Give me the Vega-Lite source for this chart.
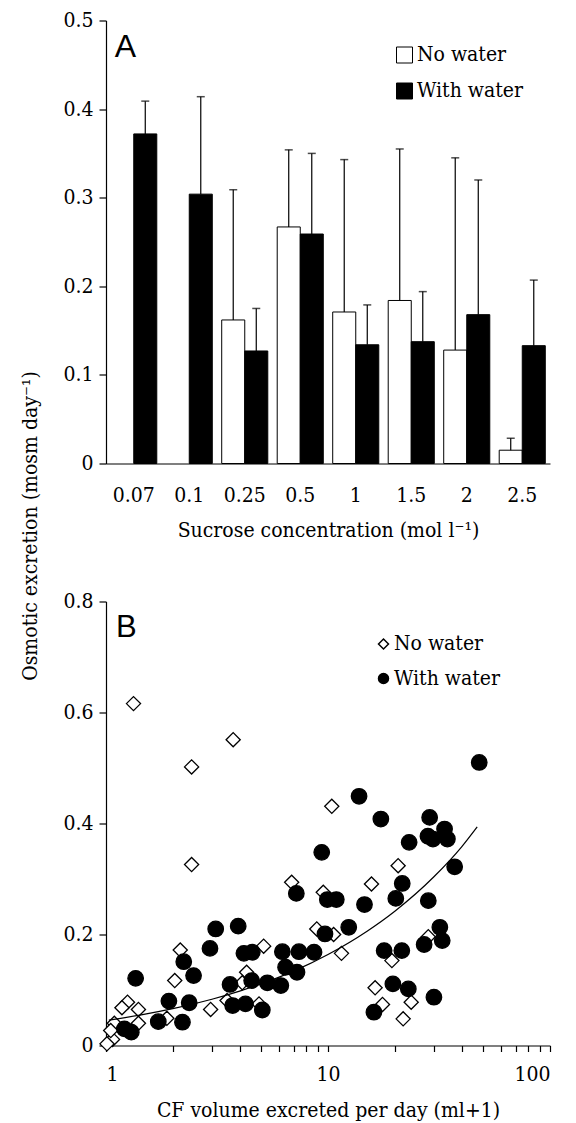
{
  "$schema": "https://vega.github.io/schema/vega-lite/v6.json",
  "background": "white",
  "padding": {"left": 19, "top": 9.5, "right": 5, "bottom": 5},
  "spacing": 138,
  "bounds": "flush",
  "config": {
    "font": "DejaVu Serif Condensed, DejaVu Serif",
    "view": {"stroke": null},
    "axis": {
      "domainColor": "black", "domainWidth": 1.2, "tickColor": "black", "tickWidth": 1.2,
      "labelColor": "black", "titleColor": "black",
      "labelFont": "DejaVu Serif Condensed, DejaVu Serif", "titleFont": "DejaVu Serif Condensed, DejaVu Serif",
      "labelFontSize": 21, "titleFontSize": 21, "titleFontWeight": "normal", "grid": false
    },
    "legend": {"labelFont": "DejaVu Serif Condensed, DejaVu Serif", "labelFontSize": 21, "labelColor": "black"}
  },
  "resolve": {
    "scale": {"fill": "independent", "shape": "independent"},
    "legend": {"fill": "independent", "shape": "independent"}
  },
  "vconcat": [
    {
      "width": 444,
      "height": 443,
      "data": {"values": [
        {"cat": "0.07", "group": "With water", "value": 0.372, "upper": 0.409},
        {"cat": "0.1", "group": "With water", "value": 0.304, "upper": 0.414},
        {"cat": "0.25", "group": "No water", "value": 0.162, "upper": 0.309},
        {"cat": "0.25", "group": "With water", "value": 0.127, "upper": 0.175},
        {"cat": "0.5", "group": "No water", "value": 0.267, "upper": 0.354},
        {"cat": "0.5", "group": "With water", "value": 0.259, "upper": 0.350},
        {"cat": "1", "group": "No water", "value": 0.171, "upper": 0.343},
        {"cat": "1", "group": "With water", "value": 0.134, "upper": 0.179},
        {"cat": "1.5", "group": "No water", "value": 0.184, "upper": 0.355},
        {"cat": "1.5", "group": "With water", "value": 0.1375, "upper": 0.194},
        {"cat": "2", "group": "No water", "value": 0.128, "upper": 0.345},
        {"cat": "2", "group": "With water", "value": 0.168, "upper": 0.320},
        {"cat": "2.5", "group": "No water", "value": 0.015, "upper": 0.0285},
        {"cat": "2.5", "group": "With water", "value": 0.133, "upper": 0.207}
      ]},
      "layer": [
        {
          "mark": {"type": "bar", "stroke": "black", "strokeWidth": 1},
          "encoding": {
            "x": {
              "field": "cat", "type": "nominal",
              "sort": ["0.07", "0.1", "0.25", "0.5", "1", "1.5", "2", "2.5"],
              "scale": {"paddingInner": 0.17, "paddingOuter": 0.085},
              "axis": {"title": "Sucrose concentration (mol l⁻¹)", "labelAngle": 0, "ticks": false, "tickSize": 0, "labelPadding": 21, "titlePadding": 14}
            },
            "xOffset": {"field": "group", "type": "nominal", "sort": ["No water", "With water"]},
            "y": {
              "field": "value", "type": "quantitative",
              "scale": {"domain": [0, 0.5], "nice": false},
              "axis": {
                "values": [0, 0.1, 0.2, 0.3, 0.4, 0.5], "format": ".1~f", "tickSize": 7, "labelPadding": 6,
                "title": "Osmotic excretion (mosm day⁻¹)", "titleX": -66, "titleY": 505,
                "titleAngle": 270, "titleAlign": "center", "titleBaseline": "bottom"
              }
            },
            "fill": {
              "field": "group", "type": "nominal",
              "scale": {"domain": ["No water", "With water"], "range": ["white", "black"]},
              "legend": {
                "title": null, "orient": "none", "legendX": 288, "legendY": 24,
                "symbolType": "square", "symbolSize": 256, "symbolStrokeColor": "black", "symbolStrokeWidth": 1,
                "labelOffset": 2, "rowPadding": 14
              }
            }
          }
        },
        {
          "mark": {"type": "rule", "color": "black", "strokeWidth": 1.2},
          "encoding": {
            "x": {"field": "cat", "type": "nominal", "sort": ["0.07", "0.1", "0.25", "0.5", "1", "1.5", "2", "2.5"]},
            "xOffset": {"field": "group", "type": "nominal", "sort": ["No water", "With water"]},
            "y": {"field": "value", "type": "quantitative"},
            "y2": {"field": "upper"}
          }
        },
        {
          "mark": {"type": "tick", "color": "black", "size": 8, "thickness": 1.5},
          "encoding": {
            "x": {"field": "cat", "type": "nominal", "sort": ["0.07", "0.1", "0.25", "0.5", "1", "1.5", "2", "2.5"]},
            "xOffset": {"field": "group", "type": "nominal", "sort": ["No water", "With water"]},
            "y": {"field": "upper", "type": "quantitative"}
          }
        },
        {
          "data": {"values": [{"panel": "A"}]},
          "mark": {"type": "text", "font": "Liberation Sans", "fontSize": 32, "align": "left", "baseline": "top", "dx": 4, "dy": 11.5, "color": "black"},
          "encoding": {
            "x": {"datum": "0.07", "bandPosition": 0},
            "y": {"datum": 0.5},
            "text": {"field": "panel"}
          }
        }
      ]
    },
    {
      "width": 444,
      "height": 444,
      "layer": [
        {
          "data": {"values": [
            {"group": "No water", "cf": 1.33, "osm": 0.616},
            {"group": "No water", "cf": 2.43, "osm": 0.502},
            {"group": "No water", "cf": 3.74, "osm": 0.551},
            {"group": "No water", "cf": 10.4, "osm": 0.431},
            {"group": "No water", "cf": 20.7, "osm": 0.324},
            {"group": "No water", "cf": 6.86, "osm": 0.294},
            {"group": "No water", "cf": 15.7, "osm": 0.291},
            {"group": "No water", "cf": 9.52, "osm": 0.276},
            {"group": "No water", "cf": 8.9, "osm": 0.210},
            {"group": "No water", "cf": 10.6, "osm": 0.200},
            {"group": "No water", "cf": 28.3, "osm": 0.196},
            {"group": "No water", "cf": 11.5, "osm": 0.166},
            {"group": "No water", "cf": 19.4, "osm": 0.153},
            {"group": "No water", "cf": 16.3, "osm": 0.104},
            {"group": "No water", "cf": 17.6, "osm": 0.074},
            {"group": "No water", "cf": 23.7, "osm": 0.078},
            {"group": "No water", "cf": 21.8, "osm": 0.048},
            {"group": "No water", "cf": 2.43, "osm": 0.326},
            {"group": "No water", "cf": 2.16, "osm": 0.172},
            {"group": "No water", "cf": 5.13, "osm": 0.179},
            {"group": "No water", "cf": 4.30, "osm": 0.132},
            {"group": "No water", "cf": 4.11, "osm": 0.113},
            {"group": "No water", "cf": 4.89, "osm": 0.075},
            {"group": "No water", "cf": 3.51, "osm": 0.081},
            {"group": "No water", "cf": 2.04, "osm": 0.117},
            {"group": "No water", "cf": 2.96, "osm": 0.065},
            {"group": "No water", "cf": 1.88, "osm": 0.049},
            {"group": "No water", "cf": 1.25, "osm": 0.078},
            {"group": "No water", "cf": 1.18, "osm": 0.068},
            {"group": "No water", "cf": 1.40, "osm": 0.065},
            {"group": "No water", "cf": 1.40, "osm": 0.040},
            {"group": "No water", "cf": 1.09, "osm": 0.040},
            {"group": "No water", "cf": 1.07, "osm": 0.011},
            {"group": "No water", "cf": 1.01, "osm": 0.003},
            {"group": "No water", "cf": 1.05, "osm": 0.027},
            {"group": "With water", "cf": 48.0, "osm": 0.510},
            {"group": "With water", "cf": 13.8, "osm": 0.449},
            {"group": "With water", "cf": 17.3, "osm": 0.408},
            {"group": "With water", "cf": 28.7, "osm": 0.411},
            {"group": "With water", "cf": 33.5, "osm": 0.390},
            {"group": "With water", "cf": 28.2, "osm": 0.377},
            {"group": "With water", "cf": 29.7, "osm": 0.372},
            {"group": "With water", "cf": 34.5, "osm": 0.372},
            {"group": "With water", "cf": 23.2, "osm": 0.366},
            {"group": "With water", "cf": 9.37, "osm": 0.348},
            {"group": "With water", "cf": 37.2, "osm": 0.322},
            {"group": "With water", "cf": 7.2, "osm": 0.274},
            {"group": "With water", "cf": 21.6, "osm": 0.292},
            {"group": "With water", "cf": 9.93, "osm": 0.263},
            {"group": "With water", "cf": 10.9, "osm": 0.263},
            {"group": "With water", "cf": 14.6, "osm": 0.254},
            {"group": "With water", "cf": 20.2, "osm": 0.265},
            {"group": "With water", "cf": 28.3, "osm": 0.261},
            {"group": "With water", "cf": 12.4, "osm": 0.213},
            {"group": "With water", "cf": 9.69, "osm": 0.201},
            {"group": "With water", "cf": 31.9, "osm": 0.213},
            {"group": "With water", "cf": 32.7, "osm": 0.189},
            {"group": "With water", "cf": 27.1, "osm": 0.182},
            {"group": "With water", "cf": 17.9, "osm": 0.171},
            {"group": "With water", "cf": 21.5, "osm": 0.171},
            {"group": "With water", "cf": 19.6, "osm": 0.111},
            {"group": "With water", "cf": 23.0, "osm": 0.102},
            {"group": "With water", "cf": 16.1, "osm": 0.060},
            {"group": "With water", "cf": 30.0, "osm": 0.087},
            {"group": "With water", "cf": 6.23, "osm": 0.169},
            {"group": "With water", "cf": 7.40, "osm": 0.169},
            {"group": "With water", "cf": 8.65, "osm": 0.168},
            {"group": "With water", "cf": 6.44, "osm": 0.141},
            {"group": "With water", "cf": 7.25, "osm": 0.132},
            {"group": "With water", "cf": 6.13, "osm": 0.108},
            {"group": "With water", "cf": 5.33, "osm": 0.113},
            {"group": "With water", "cf": 4.53, "osm": 0.117},
            {"group": "With water", "cf": 3.62, "osm": 0.110},
            {"group": "With water", "cf": 3.72, "osm": 0.072},
            {"group": "With water", "cf": 4.25, "osm": 0.075},
            {"group": "With water", "cf": 5.06, "osm": 0.064},
            {"group": "With water", "cf": 3.12, "osm": 0.210},
            {"group": "With water", "cf": 3.94, "osm": 0.215},
            {"group": "With water", "cf": 2.94, "osm": 0.175},
            {"group": "With water", "cf": 2.24, "osm": 0.151},
            {"group": "With water", "cf": 4.18, "osm": 0.166},
            {"group": "With water", "cf": 4.56, "osm": 0.168},
            {"group": "With water", "cf": 2.48, "osm": 0.126},
            {"group": "With water", "cf": 1.92, "osm": 0.080},
            {"group": "With water", "cf": 2.37, "osm": 0.077},
            {"group": "With water", "cf": 1.72, "osm": 0.043},
            {"group": "With water", "cf": 2.21, "osm": 0.042},
            {"group": "With water", "cf": 1.36, "osm": 0.121},
            {"group": "With water", "cf": 1.21, "osm": 0.030},
            {"group": "With water", "cf": 1.30, "osm": 0.024}
          ]},
          "mark": {"type": "point", "filled": true, "stroke": "black", "strokeWidth": 1.3, "opacity": 1},
          "encoding": {
            "x": {
              "field": "cf", "type": "quantitative",
              "scale": {"type": "log", "domain": [1, 100], "nice": false},
              "axis": {
                "values": [1, 2, 3, 4, 5, 6, 7, 8, 9, 10, 20, 30, 40, 50, 60, 70, 80, 90, 100],
                "labelExpr": "datum.value == 1 ? '1' : datum.value == 10 ? '10' : datum.value == 100 ? '100' : ''",
                "tickSize": 6, "labelPadding": 12, "labelOverlap": false,
                "title": "CF volume excreted per day (ml+1)", "titlePadding": 15
              }
            },
            "y": {
              "field": "osm", "type": "quantitative",
              "scale": {"domain": [0, 0.8], "nice": false},
              "axis": {"values": [0, 0.2, 0.4, 0.6, 0.8], "format": ".1~f", "tickSize": 7, "labelPadding": 6, "title": null}
            },
            "shape": {
              "field": "group", "type": "nominal",
              "scale": {"domain": ["No water", "With water"], "range": ["diamond", "circle"]},
              "legend": {
                "title": null, "orient": "none", "legendX": 267, "legendY": 32, "labelOffset": 0, "rowPadding": 12.5,
                "encode": {"symbols": {"update": {
                  "fill": {"signal": "datum.value === 'No water' ? 'white' : 'black'"},
                  "stroke": {"value": "black"},
                  "strokeWidth": {"value": 1.3},
                  "opacity": {"value": 1},
                  "size": {"signal": "datum.value === 'No water' ? 200 : 235"}
                }}}
              }
            },
            "fill": {
              "field": "group", "type": "nominal",
              "scale": {"domain": ["No water", "With water"], "range": ["white", "black"]},
              "legend": null
            },
            "size": {
              "condition": {"test": "datum.group === 'With water'", "value": 240},
              "value": 200
            }
          }
        },
        {
          "data": {"values": [
            {"cf": 1.03, "osm": 0.0457},
            {"cf": 1.5, "osm": 0.0565},
            {"cf": 2, "osm": 0.0664},
            {"cf": 3, "osm": 0.0834},
            {"cf": 4, "osm": 0.098},
            {"cf": 5, "osm": 0.111},
            {"cf": 7, "osm": 0.134},
            {"cf": 10, "osm": 0.164},
            {"cf": 15, "osm": 0.206},
            {"cf": 20, "osm": 0.242},
            {"cf": 30, "osm": 0.304},
            {"cf": 40, "osm": 0.358},
            {"cf": 47, "osm": 0.394}
          ]},
          "mark": {"type": "line", "color": "black", "strokeWidth": 1.2, "interpolate": "monotone"},
          "encoding": {
            "x": {"field": "cf", "type": "quantitative"},
            "y": {"field": "osm", "type": "quantitative"}
          }
        },
        {
          "data": {"values": [{"panel": "B"}]},
          "mark": {"type": "text", "font": "Liberation Sans", "fontSize": 31, "align": "left", "baseline": "top", "dx": 10, "dy": 11.5, "color": "black"},
          "encoding": {
            "x": {"datum": 1},
            "y": {"datum": 0.8},
            "text": {"field": "panel"}
          }
        }
      ]
    }
  ]
}
